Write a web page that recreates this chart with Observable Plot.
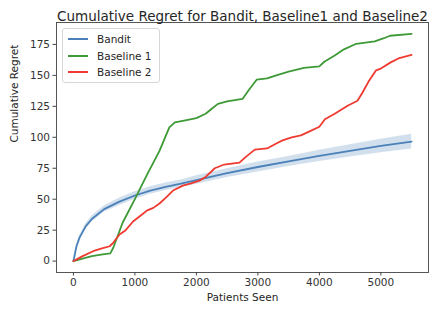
<!DOCTYPE html>
<html><head><meta charset="utf-8">
<script src="https://cdn.jsdelivr.net/npm/d3@7"></script>
<script src="https://cdn.jsdelivr.net/npm/@observablehq/plot@0.6"></script>
<style>
body{margin:0;background:#fff;font-family:"DejaVu Sans",sans-serif}
#wrap{position:relative;width:430px;height:312px}
#legend{position:absolute;left:62px;top:28px;width:98px;height:55px;border:1px solid #d6d6d6;border-radius:3px;background:rgba(255,255,255,0.85);box-sizing:border-box;font-size:10.5px;color:#262626}
.item{position:absolute;left:5px;height:14px;display:flex;align-items:center}
.sw{width:20px;height:0;border-top:2px solid;margin-right:9px}
</style>
</head><body>
<div id="wrap"><div id="chart"></div><div id="legend"></div></div>
<script>
const titleText = "Cumulative Regret for Bandit, Baseline1 and Baseline2";
const xLabel = "Patients Seen";
const yLabel = "Cumulative Regret";
const seriesNames = ["Bandit", "Baseline 1", "Baseline 2"];
const seriesColors = ["#4a81b9", "#3e9a36", "#ee3a30"];
const xTicks = [0, 1000, 2000, 3000, 4000, 5000];
const yTicks = [0, 25, 50, 75, 100, 125, 150, 175];

const banditX  = [0, 50, 100, 200, 300, 500, 750, 1000, 1250, 1500, 1750, 2000, 2500, 3000, 3500, 4000, 4500, 5000, 5500];
const banditY  = [0, 12, 19, 28, 34, 42, 48, 53, 57, 60, 62.5, 65.5, 71, 76, 80.5, 85, 89, 93, 96.5];
const banditLo = [0, 11, 17.5, 26, 31.5, 39.5, 45, 50, 54, 57, 59.5, 62, 67.5, 72, 76.5, 80.5, 84, 87.5, 90.5];
const banditHi = [0, 13, 20.5, 30, 36.5, 44.5, 51, 56, 60, 63, 65.5, 69, 74.5, 80, 84.5, 89.5, 94, 98.5, 102.5];

const base1X = [0, 150, 300, 450, 600, 650, 800, 1000, 1200, 1400, 1560, 1650, 1800, 2000, 2150, 2250, 2350, 2500, 2750, 2850, 2980, 3150, 3300, 3500, 3750, 4000, 4080, 4250, 4400, 4600, 4900, 5050, 5150, 5500];
const base1Y = [0, 2, 4, 5.3, 6.2, 11, 31, 50, 70, 89, 108, 112, 113.5, 115.5, 119, 123, 127, 129, 131, 138, 146.5, 147.5, 150, 153, 156, 157.3, 161, 166, 171, 175.5, 177.5, 180, 182, 183.5];

const base2X = [0, 150, 320, 450, 590, 650, 750, 850, 970, 1100, 1200, 1300, 1400, 1500, 1620, 1780, 1900, 2050, 2150, 2300, 2450, 2700, 2800, 2950, 3150, 3300, 3400, 3550, 3700, 3850, 4000, 4090, 4250, 4460, 4620, 4700, 4800, 4920, 5000, 5160, 5300, 5500];
const base2Y = [0, 4, 8, 10, 12, 15, 21.5, 25, 32, 37, 41, 43, 46.5, 51, 57, 61, 62.5, 65, 68, 75, 78, 79.5, 84, 90, 91, 95, 97.5, 100, 101.5, 105, 108.5, 114.5, 119, 125.5, 129.5, 136, 145, 154, 155.5, 160.5, 164, 166.5];

const band = banditX.map((x, i) => ({x, lo: banditLo[i], hi: banditHi[i]}));
const bandit = banditX.map((x, i) => ({x, y: banditY[i]}));
const base1 = base1X.map((x, i) => ({x, y: base1Y[i]}));
const base2 = base2X.map((x, i) => ({x, y: base2Y[i]}));

const chart = Plot.plot({
  width: 430, height: 312,
  marginLeft: 56, marginRight: 2, marginTop: 22, marginBottom: 40,
  style: {fontFamily: "DejaVu Sans", fontSize: "10.5px", color: "#262626", background: "#fff", overflow: "visible"},
  x: {domain: [-275, 5775], label: null},
  y: {domain: [-9.2, 192.7], label: null},
  marks: [
    Plot.areaY(band, {x: "x", y1: "lo", y2: "hi", fill: seriesColors[0], fillOpacity: 0.25}),
    Plot.line(bandit, {x: "x", y: "y", stroke: seriesColors[0], strokeWidth: 1.8}),
    Plot.line(base1, {x: "x", y: "y", stroke: seriesColors[1], strokeWidth: 1.8}),
    Plot.line(base2, {x: "x", y: "y", stroke: seriesColors[2], strokeWidth: 1.8}),
    Plot.frame({stroke: "#444", strokeWidth: 0.9}),
    Plot.axisX({ticks: xTicks, tickSize: 3.5, tickPadding: 3, tickFormat: d => String(d), stroke: "#444", label: null, fill: "#333"}),
    Plot.axisY({ticks: yTicks, tickSize: 3.5, tickPadding: 3, tickFormat: d => String(d), stroke: "#444", label: null, fill: "#333"}),
    Plot.text([titleText], {frameAnchor: "top", dy: -11, fontSize: 13.5, fill: "#262626"}),
    Plot.text([xLabel], {frameAnchor: "bottom", dy: 28, fontSize: 10.5, fill: "#262626"}),
    Plot.text([yLabel], {frameAnchor: "left", dx: -42, dy: -5, rotate: -90, fontSize: 10.5, fill: "#262626"})
  ]
});
document.getElementById("chart").append(chart);

const legend = document.getElementById("legend");
seriesNames.forEach((name, i) => {
  const it = document.createElement("div");
  it.className = "item";
  it.style.top = (3 + i * 16.5) + "px";
  const sw = document.createElement("span");
  sw.className = "sw";
  sw.style.borderColor = seriesColors[i];
  const t = document.createElement("span");
  t.textContent = name;
  it.append(sw, t);
  legend.append(it);
});
</script>
</body></html>
